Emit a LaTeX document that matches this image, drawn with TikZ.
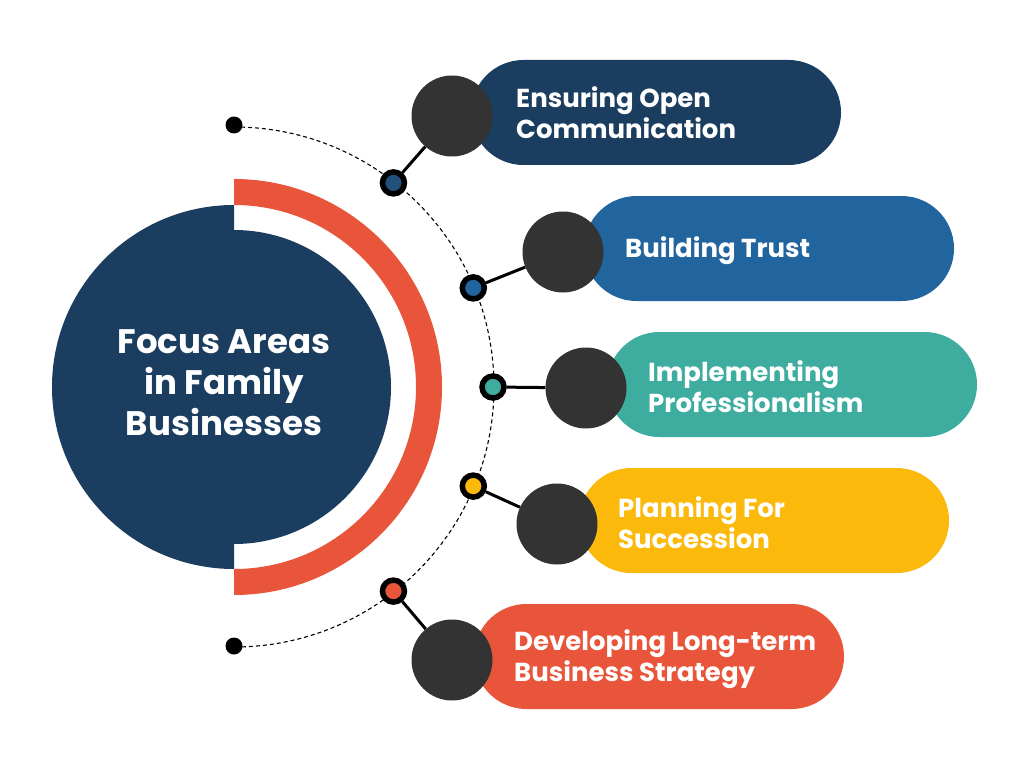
\documentclass[tikz,border=0pt]{standalone}
\usepackage{fontspec}
\setmainfont{Poppins}
\definecolor{navy}{HTML}{1B3D5F}
\definecolor{bluec}{HTML}{21649E}
\definecolor{ringnavy}{HTML}{21507A}
\definecolor{tealc}{HTML}{3EADA0}
\definecolor{yellowc}{HTML}{FBBA0B}
\definecolor{orangec}{HTML}{E9553B}
\definecolor{darkc}{HTML}{333333}
\begin{document}
\begin{tikzpicture}[x=1pt,y=-1pt,
  pill/.style={rectangle, rounded corners=52.5pt, minimum width=370pt, minimum height=105pt, inner sep=0pt, draw=none},
  pilltxt/.style={text=white, font=\fontsize{26}{31}\selectfont\bfseries, align=left, anchor=west, inner sep=0pt},
  knob/.style={circle, fill=darkc, minimum size=81pt, inner sep=0pt},
  ringnode/.style={circle, draw=black, line width=5.5pt, minimum size=22pt, inner sep=0pt},
  link/.style={line width=3pt, draw=black},
  enddot/.style={circle, fill=black, minimum size=17pt, inner sep=0pt},
  dashedarc/.style={draw=black, line width=1.1pt, dash pattern=on 4pt off 3pt}]
\useasboundingbox (0,0) rectangle (1024,770);
\fill[white] (0,0) rectangle (1024,770);
\coordinate (c) at (234,387);

% central disc
\fill[navy] (234,205) arc[start angle=-90, end angle=-270, radius=182] -- cycle;
\fill[navy] (234,230) arc[start angle=-90, end angle=90, radius=157] -- cycle;
\fill[orangec] (234,179) arc[start angle=-90, end angle=90, radius=208]
   -- (234,569) arc[start angle=90, end angle=-90, radius=182] -- cycle;
\node[text=white, font=\fontsize{34}{41}\selectfont\bfseries, align=center] (title) at (224,383) {Focus Areas\\in Family\\Businesses};

% dashed arc
\draw[dashedarc] (234,127) arc[start angle=-90, end angle=90, radius=260];
\node[enddot] (e1) at (234,125) {};
\node[enddot] (e2) at (234,646) {};

% pills
\node[pill, fill=navy] (p1) at (656,112.5) {};
\node[pill, fill=bluec] (p2) at (769,248.5) {};
\node[pill, fill=tealc] (p3) at (792,384.5) {};
\node[pill, fill=yellowc] (p4) at (764,520.5) {};
\node[pill, fill=orangec] (p5) at (659,656.5) {};

\node[pilltxt] (t1) at (516,113) {Ensuring Open\\Communication};
\node[pilltxt] (t2) at (625,251) {Building Trust};
\node[pilltxt] (t3) at (648,387) {Implementing\\Professionalism};
\node[pilltxt] (t4) at (618,523) {Planning For\\Succession};
\node[pilltxt] (t5) at (514,659) {Developing Long-term\\Business Strategy};

% rings and knobs
\path (c) ++(-52:259) coordinate (q1);
\path (c) ++(-22.5:259) coordinate (q2);
\path (c) ++(0:259) coordinate (q3);
\path (c) ++(22.5:259) coordinate (q4);
\path (c) ++(52:259) coordinate (q5);

\node[knob] (d1) at (452,116) {};
\node[knob] (d2) at (563,252) {};
\node[knob] (d3) at (586,388) {};
\node[knob] (d4) at (557,524) {};
\node[knob] (d5) at (452,660) {};

\node[ringnode, fill=ringnavy] (r1) at (q1) {};
\node[ringnode, fill=bluec] (r2) at (q2) {};
\node[ringnode, fill=tealc] (r3) at (q3) {};
\node[ringnode, fill=yellowc] (r4) at (q4) {};
\node[ringnode, fill=orangec] (r5) at (q5) {};

\draw[link] (r1) -- (d1);
\draw[link] (r2) -- (d2);
\draw[link] (r3) -- (d3);
\draw[link] (r4) -- (d4);
\draw[link] (r5) -- (d5);
\end{tikzpicture}
\end{document}
